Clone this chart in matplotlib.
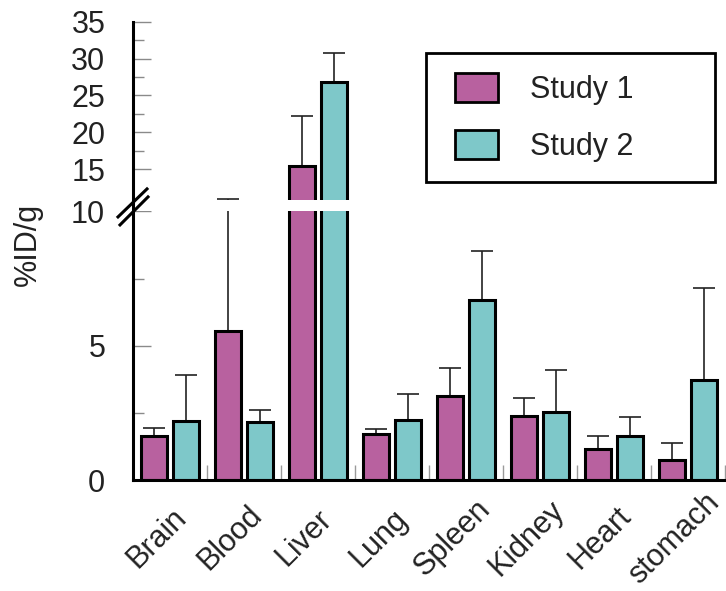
import numpy as np
import matplotlib
matplotlib.use("Agg")
import matplotlib.pyplot as plt
from matplotlib.patches import Rectangle, Patch
from matplotlib.lines import Line2D
from matplotlib.transforms import ScaledTranslation, blended_transform_factory
matplotlib.rcParams['font.family'] = ['Liberation Sans', 'DejaVu Sans']

organs = ["Brain", "Blood", "Liver", "Lung", "Spleen", "Kidney", "Heart", "stomach"]
study1 = [1.62, 5.56, 15.47, 1.71, 3.13, 2.38, 1.15, 0.74]
study1_err = [0.31, 5.34, 6.78, 0.18, 1.05, 0.67, 0.48, 0.65]
study2 = [2.18, 2.17, 26.87, 2.23, 6.70, 2.54, 1.64, 3.72]
study2_err = [1.74, 0.44, 3.83, 0.96, 1.81, 1.56, 0.69, 3.44]
major_ticks = [0, 5, 10, 15, 20, 25, 30, 35]
minor_ticks = [2.5, 7.5, 17.5, 22.5, 27.5, 32.5]

c1 = "#b8619f"
c2 = "#7ec8c9"
txt = "#222222"

# broken axis: linear up to 10, compressed above
BRK = 10
GAP = 0.2
R = 0.2745

def fwd(v):
    v = np.asarray(v, dtype=float)
    return np.where(v <= BRK, v, BRK + GAP + (v - BRK) * R)

def inv(t):
    t = np.asarray(t, dtype=float)
    up = BRK + (t - BRK - GAP) / R
    return np.where(t <= BRK, t, np.where(t < BRK + GAP, BRK, up))

fig = plt.figure(figsize=(7.26, 5.91), dpi=100)
ax = fig.add_axes([133/726, 1 - 480/591, 592/726, (480 - 21.7)/591])
ax.set_yscale('function', functions=(fwd, inv))

x = np.arange(len(organs))
w = 0.35
off = 0.216
ax.bar(x - off, study1, w, color=c1, edgecolor='k', linewidth=2.2, zorder=1)
ax.bar(x + off, study2, w, color=c2, edgecolor='k', linewidth=2.2, zorder=1)
zeros = np.zeros(len(organs))
ax.errorbar(x - off, study1, yerr=[zeros, study1_err], fmt='none', ecolor=txt,
            elinewidth=1.2, capsize=7.9, capthick=1.2, zorder=0.9)
ax.errorbar(x + off, study2, yerr=[zeros, study2_err], fmt='none', ecolor=txt,
            elinewidth=1.2, capsize=7.9, capthick=1.2, zorder=0.9)

# white gap across the bars at the break
ax.axhspan(BRK, BRK + 0.78, color='white', zorder=2.2, lw=0)

ax.set_xlim(-0.5, len(organs) - 0.5)
ax.set_ylim(0, 35)

for s in ['top', 'right']:
    ax.spines[s].set_visible(False)
ax.spines['left'].set_linewidth(2.2)
ax.spines['bottom'].set_linewidth(2.2)

ax.set_yticks(major_ticks)
ax.set_yticks(minor_ticks, minor=True)
ax.tick_params(axis='y', which='major', direction='in', length=13, width=1,
               color='#8a8a8a', labelsize=22, labelcolor=txt, pad=20)
ax.tick_params(axis='y', which='minor', direction='in', length=8, width=1,
               color='#8a8a8a')

ax.set_xticks(x)
ax.set_xticks(np.arange(len(organs)) + 0.5, minor=True)
ax.set_xticklabels(organs, rotation=45, ha='center', va='center',
                   rotation_mode='anchor')
ax.tick_params(axis='x', which='major', length=0, labelsize=22,
               labelcolor=txt, pad=42)
ax.tick_params(axis='x', which='minor', direction='in', length=11, width=1,
               color='#9a9a9a')
shift = ScaledTranslation(-13.5/100, 0, fig.dpi_scale_trans)
for lab in ax.get_xticklabels():
    lab.set_transform(lab.get_transform() + shift)

ax.set_ylabel("%ID/g", fontsize=22, color=txt)
ax.yaxis.set_label_coords(-0.152, 0.513)

# break marks on the y axis
fig.canvas.draw()
bt = blended_transform_factory(ax.transAxes, ax.transData)
ax0, ay0 = bt.transform((0, 10.15))
for (dx0, dy0, dx1, dy1) in [(-15, -12, 14, 16), (-13, -20, 15, 8)]:
    fig.add_artist(Line2D([ax0 + dx0, ax0 + dx1], [ay0 + dy0, ay0 + dy1],
                          transform=None, color='k', lw=2.2, zorder=5))

# legend with a separate frame
fig.add_artist(Rectangle((426/726, 1 - 182/591), 289/726, 129/591,
                         transform=fig.transFigure, fill=False,
                         edgecolor='k', lw=2.0))
handles = [Patch(facecolor=c1, edgecolor='k', lw=2.0),
           Patch(facecolor=c2, edgecolor='k', lw=2.0)]
fig.legend(handles, ["Study 1", "Study 2"], loc='upper left',
           bbox_to_anchor=(455/726, 1 - 73/591), frameon=False,
           borderpad=0, borderaxespad=0, fontsize=22, handlelength=1.4,
           handleheight=1.08, handletextpad=1.05, labelspacing=0.82,
           labelcolor=txt)

fig.savefig("out.png", dpi=100)
